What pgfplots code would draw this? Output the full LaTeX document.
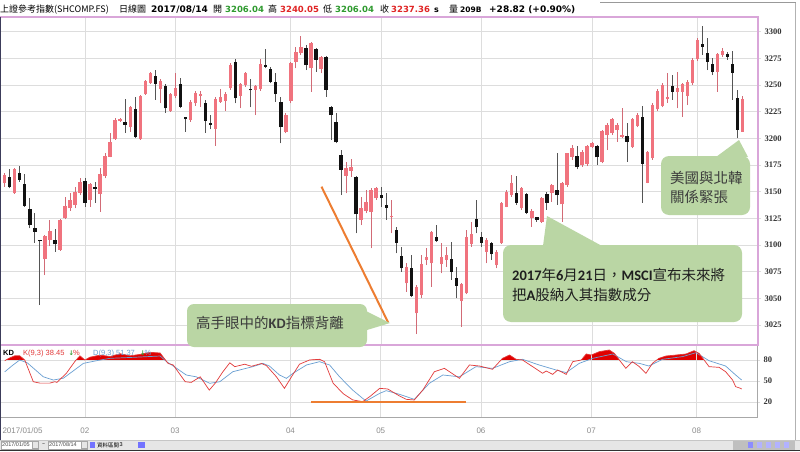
\documentclass[border=0pt]{standalone}
\usepackage{fontspec}
\setmainfont{Liberation Sans}
\newfontfamily\cjk{Noto Sans CJK TC}
\newfontfamily\dv{DejaVu Sans}
\newfontfamily\carl{Carlito}
\newfontfamily\lser{Liberation Serif}
\usepackage{pgfplots}
\usepackage{pgfplotstable}
\pgfplotsset{compat=1.18}

\definecolor{framepink}{HTML}{D9A6D9}
\definecolor{gridgray}{HTML}{DDDDDD}
\definecolor{upbody}{HTML}{F0737E}
\definecolor{upwick}{HTML}{D26B76}
\definecolor{dnbody}{HTML}{111111}
\definecolor{dnwick}{HTML}{555555}
\definecolor{callout}{HTML}{BAD6A4}
\definecolor{annot}{HTML}{ED7D31}
\definecolor{kred}{HTML}{E23A3A}
\definecolor{kfill}{HTML}{E00000}
\definecolor{dblue}{HTML}{6A9FD2}
\definecolor{hdgreen}{HTML}{2E9A2E}
\definecolor{hdred}{HTML}{E02424}
\definecolor{labgray}{HTML}{8C8C8C}
\definecolor{tickdark}{HTML}{333333}
\definecolor{kdframe}{HTML}{A8A8A8}
\definecolor{leftdark}{HTML}{3C3C5A}
\definecolor{tbgray}{HTML}{E6E6E6}
\definecolor{ctext}{HTML}{3C3C3C}

% up (red) candles: index, open, high, low, close
\pgfplotstableread{
i O H L C
0 3157.9 3167.3 3154.8 3165.7
2 3148.5 3171.9 3147.9 3171.3
8 3086.6 3109.4 3071.9 3108.5
9 3104.8 3123.5 3099.1 3113.2
11 3095.4 3124.1 3094.8 3123.5
12 3125.1 3145.4 3124.1 3136.6
13 3134.4 3148.5 3132.3 3142.3
14 3137.6 3154.8 3134.4 3150.1
15 3149.1 3162.6 3146.9 3159.4
17 3142.3 3158.5 3136.0 3156.9
19 3147.9 3171.9 3131.3 3166.6
20 3164.8 3186.0 3162.6 3183.5
21 3182.9 3204.8 3182.3 3196.9
22 3199.1 3218.8 3198.5 3217.3
23 3216.3 3219.4 3215.4 3218.5
25 3210.4 3230.4 3206.3 3229.1
27 3199.1 3240.7 3198.5 3239.8
28 3241.6 3254.8 3240.7 3253.8
29 3252.3 3262.6 3251.0 3261.0
31 3246.3 3255.4 3232.9 3253.8
33 3226.0 3242.9 3225.1 3241.6
34 3239.8 3261.0 3237.6 3246.9
37 3217.3 3236.0 3215.7 3234.4
38 3232.9 3244.4 3230.7 3242.9
39 3240.1 3244.8 3229.8 3241.3
42 3209.1 3239.1 3192.9 3236.6
43 3234.4 3246.0 3233.5 3239.1
44 3235.1 3243.8 3226.0 3241.6
45 3246.9 3270.4 3245.4 3268.8
47 3239.8 3251.6 3228.2 3250.7
48 3250.1 3262.6 3248.5 3261.6
50 3245.4 3250.1 3221.9 3249.1
51 3246.0 3274.1 3244.8 3269.8
56 3206.3 3223.5 3204.8 3221.9
57 3235.4 3271.9 3232.9 3270.4
58 3271.9 3286.0 3265.7 3280.7
59 3280.4 3296.0 3278.2 3286.0
61 3265.7 3290.7 3243.8 3289.1
63 3264.8 3277.3 3261.0 3276.0
68 3165.1 3178.2 3148.5 3171.9
69 3169.8 3180.4 3164.1 3173.5
71 3123.5 3145.4 3118.8 3134.4
72 3131.9 3151.6 3129.8 3140.7
73 3131.3 3153.2 3096.9 3151.6
74 3143.8 3154.8 3142.3 3153.2
77 3126.3 3142.3 3111.0 3127.3
80 3064.1 3082.9 3056.3 3079.8
82 3036.0 3062.6 3016.6 3061.0
83 3053.2 3090.7 3050.1 3082.3
84 3086.0 3096.9 3081.3 3089.1
85 3082.9 3113.5 3061.0 3112.6
87 3081.9 3102.3 3073.5 3089.1
88 3086.0 3098.5 3079.8 3090.7
91 3047.6 3064.1 3023.5 3063.2
92 3054.8 3114.1 3054.1 3107.3
93 3100.7 3121.9 3098.5 3110.1
96 3093.8 3106.3 3082.9 3104.8
98 3081.3 3095.4 3078.2 3093.8
99 3101.6 3140.7 3101.0 3139.8
100 3136.0 3151.6 3135.4 3150.1
101 3146.9 3165.7 3145.4 3157.9
103 3134.4 3154.8 3132.9 3153.8
105 3125.1 3133.5 3117.3 3131.9
107 3121.9 3145.4 3121.0 3143.8
109 3149.1 3157.3 3140.7 3156.3
111 3138.2 3158.8 3121.9 3157.9
112 3156.3 3186.6 3154.8 3186.0
113 3182.9 3193.8 3179.8 3191.3
115 3175.1 3189.1 3173.5 3187.6
116 3176.0 3193.8 3174.1 3192.9
117 3191.6 3196.9 3190.7 3196.0
119 3178.2 3207.9 3176.6 3207.0
120 3203.2 3214.1 3189.1 3212.6
121 3204.8 3218.8 3203.2 3217.9
122 3207.9 3214.1 3196.9 3212.6
123 3201.6 3228.2 3200.1 3203.2
125 3192.3 3218.8 3190.7 3217.9
126 3211.6 3223.5 3210.4 3221.9
128 3158.5 3188.5 3157.9 3187.6
129 3181.3 3232.9 3179.8 3231.3
130 3227.3 3246.0 3226.0 3244.8
131 3230.4 3251.6 3229.1 3250.1
132 3236.6 3261.0 3233.5 3238.5
134 3243.8 3262.6 3228.2 3247.6
135 3243.8 3251.6 3220.4 3250.7
136 3239.8 3254.8 3231.3 3253.2
137 3252.3 3275.1 3250.1 3273.5
138 3274.1 3293.8 3272.9 3292.3
142 3262.6 3280.4 3243.8 3279.1
143 3278.2 3284.4 3276.6 3282.3
147 3206.04 3240.05 3206.04 3237.36
}\uptab

% down (black) candles
\pgfplotstableread{
i O H L C
1 3163.5 3171.3 3153.2 3154.1
3 3167.3 3174.4 3159.4 3161.0
4 3156.9 3166.3 3136.0 3136.6
5 3133.5 3143.8 3115.7 3118.8
6 3115.7 3129.8 3102.3 3112.6
7 3104.8 3104.8 3043.8 3103.5
10 3104.8 3114.8 3093.8 3100.7
16 3159.8 3162.6 3136.0 3139.8
18 3154.1 3159.4 3139.8 3152.9
24 3215.7 3236.6 3205.4 3212.9
26 3227.6 3238.5 3200.1 3201.6
30 3258.5 3264.1 3236.0 3251.0
32 3249.1 3250.7 3224.1 3228.2
35 3250.7 3256.3 3228.2 3229.8
36 3219.8 3220.4 3206.3 3217.9
40 3233.5 3236.0 3205.4 3216.6
41 3214.1 3221.9 3208.5 3212.6
46 3271.9 3274.1 3232.9 3237.6
49 3246.0 3255.4 3229.1 3245.1
52 3268.8 3283.5 3265.7 3267.3
53 3264.8 3267.3 3251.6 3253.2
54 3252.9 3261.0 3234.4 3241.6
55 3234.4 3239.1 3195.4 3210.4
60 3284.4 3287.6 3264.1 3268.8
62 3283.5 3284.4 3262.6 3273.5
64 3276.0 3277.3 3239.1 3245.4
65 3229.8 3230.4 3198.5 3221.9
66 3215.1 3224.1 3195.4 3196.3
67 3184.4 3189.1 3146.9 3170.4
70 3164.1 3164.8 3111.0 3128.8
75 3146.9 3154.8 3136.0 3143.8
76 3137.6 3148.5 3123.5 3135.1
78 3114.1 3117.3 3092.3 3102.3
79 3089.8 3098.5 3075.1 3078.2
81 3078.2 3090.7 3051.6 3052.3
86 3107.3 3118.8 3103.2 3104.1
89 3086.6 3103.2 3067.3 3075.1
90 3068.8 3079.8 3050.1 3061.9
94 3124.1 3142.3 3111.0 3116.6
95 3107.9 3112.6 3098.5 3102.3
97 3101.6 3103.2 3086.0 3091.3
102 3149.1 3164.8 3137.6 3139.8
104 3147.6 3149.1 3129.1 3130.4
106 3126.0 3126.6 3121.9 3123.5
108 3147.6 3150.1 3132.9 3139.8
110 3151.6 3186.6 3137.6 3146.9
114 3183.5 3192.9 3171.0 3172.9
118 3192.9 3193.8 3175.1 3182.3
124 3202.3 3214.1 3178.2 3196.9
127 3219.8 3230.4 3139.8 3176.0
133 3249.1 3259.4 3236.0 3243.8
139 3288.5 3305.4 3278.2 3286.0
140 3280.4 3293.8 3264.1 3271.9
141 3269.4 3275.1 3259.4 3261.9
144 3278.8 3281.3 3273.5 3276.6
145 3269.8 3282.3 3236.0 3261.6
146 3237.6 3245.4 3200.1 3207.9
}\dntab

% K(9,3)
\pgfplotstableread{
i v
0 79
1 83
2 86
3 86
4 80
5.7 49
7 47
9 47
10 49
10.4 48
12.3 61
14 78
15 86
16 80
17 84
19 87
21 85
23 89
25 86
27 88
29 91
31 90
32.6 75
33.6 73
36 49
37.2 48
39 56
40.8 37
42 47
43.5 63
44.9 76
45.9 70.5
47.9 74
49.2 71
51.2 75
52.2 72
54.2 56
55.8 39.5
57.2 56
58.8 74
60.8 80
62.8 81
63.8 77.6
65.5 47
67.5 32
69.4 23
71.4 20.5
72.8 27.6
74.8 39.5
76.4 38.6
78.75 28.6
80.1 23.8
81.7 22.9
83.4 37.1
85.7 63.3
87.7 68.1
90.7 53.8
92.7 72.9
94.7 71.4
97.3 66.7
99.3 82.4
100.7 87.1
102 81
103.3 80
105.3 70.5
107.3 61
108 64.3
109.3 59.5
110.3 65.7
112 59.5
113.3 77.6
115 80
116 88.6
117 87.1
118.6 91.9
120.6 94.3
121.6 89.5
122.6 80
123.9 68.1
125.2 77.6
126.6 70.5
127.9 61
129.2 75.2
130.5 82.4
131.9 85.7
133.9 87.1
135.9 88.6
137.5 93.3
138.5 89.5
140.5 70.5
142.5 69.5
143.8 63.3
145.2 51.4
145.8 41.9
146.8 39.5
147 38.45
}\Ktab

% D(9,3)
\pgfplotstableread{
i v
0 63
1.5 72
3 80
4.5 76
7.7 56
9.7 51.4
11.7 54
15.7 75.2
18.3 79
21 82.4
25.6 83.8
31 85.7
32.3 77.6
34.3 68.1
36.2 58.6
38.2 56
40.9 46.7
42.9 49
45.5 63.3
49.5 70.5
51.5 75.2
52.8 71.4
54.8 58.6
56.2 53.8
57.5 61
60.2 72.9
62.8 77.6
64.8 72.9
66.8 56
69.4 37.1
71.4 25.2
72.1 21.4
74.8 32.4
76.1 36.2
78.75 31
81.7 23.8
84.7 46.7
87.4 58.6
90.7 56
94 70.5
97.3 68
100.7 77.6
103.3 81
106.6 72.9
110 65.7
112 62
114.6 75.2
117.3 82.4
121.3 88.6
124 77.6
126.6 75.2
128.5 71.4
131.2 81
135.2 84.8
137.9 90.5
140.5 79
143.8 71.4
145.8 58.6
147 51.37
}\Dtab

\pgfplotsset{
  ticklab/.style={font=\lser\bfseries\fontsize{8.5}{9}\selectfont, text=tickdark,
    /pgf/number format/1000 sep={}, /pgf/number format/assume math mode=true},
  candle/.style 2 args={forget plot, draw=none, mark=none,
    error bars/y dir=plus, error bars/y explicit, error bars/error mark=none,
    error bars/error bar style={draw=#1, line width=#2, solid}},
}

\begin{document}
\begin{tikzpicture}[x=1pt,y=1pt]
\path[use as bounding box, fill=white] (0,0) rectangle (800,451);

% overbought fill of K above 80
\begin{axis}[at={(0pt,91pt)}, anchor=south west, scale only axis,
  width=757pt, height=15pt,
  xmin=-0.94, xmax=150.06, ymin=80, ymax=101.43, hide axis, clip=true]
\addplot[draw=none, fill=kfill] table[x=i, y=v] {\Ktab} \closedcycle;
\end{axis}

% KD panel
\begin{axis}[at={(0pt,34pt)}, anchor=south west, scale only axis,
  width=757pt, height=72pt,
  xmin=-0.94, xmax=150.06, ymin=-1.43, ymax=101.43,
  axis line style={draw=kdframe, line width=0.8pt},
  xtick={16,34,57,75,95,117,138},
  xticklabels={02,03,04,05,06,07,08},
  extra x ticks={-0.94}, extra x tick labels={2017/01/05},
  extra x tick style={grid=none, xticklabel style={anchor=north west, xshift=-1pt}},
  xticklabel style={font=\fontsize{8}{9}\selectfont, text=labgray, yshift=-4pt},
  xtick style={draw=none},
  ytick={20,50,80}, ytick pos=right, yticklabel pos=right,
  ytick style={draw=gridgray, line width=0.8pt}, tick align=outside,
  major tick length=3pt,
  yticklabel style={ticklab},
  grid=major, grid style={draw=gridgray, line width=0.8pt},
]
\addplot[draw=dblue, line width=0.7pt] table[x=i, y=v] {\Dtab};
\addplot[draw=kred, line width=0.7pt] table[x=i, y=v] {\Ktab};
\draw[annot, line width=2pt] (axis cs:61.1,19.5) -- (axis cs:92,19.5);
\end{axis}

% price panel
\begin{axis}[at={(0pt,106pt)}, anchor=south west, scale only axis,
  width=758pt, height=328pt,
  xmin=-0.94, xmax=150.06, ymin=3006.3, ymax=3313.8,
  axis line style={draw=framepink, line width=1.5pt},
  xtick={16,34,57,75,95,117,138}, xticklabels={}, xtick style={draw=none},
  ytick={3025,3050,...,3300}, ytick pos=right, yticklabel pos=right,
  ytick style={draw=gridgray, line width=0.8pt}, tick align=outside,
  major tick length=3pt,
  yticklabel style={ticklab},
  grid=major, grid style={draw=gridgray, line width=0.8pt},
]
% wicks
\addplot[candle={upwick}{0.8pt}]
  table[x=i, y=L, y error expr=\thisrow{H}-\thisrow{L}] {\uptab};
\addplot[candle={dnwick}{0.8pt}]
  table[x=i, y=L, y error expr=\thisrow{H}-\thisrow{L}] {\dntab};
% bodies
\addplot[candle={upbody}{3.4pt}]
  table[x=i, y=O, y error expr=\thisrow{C}-\thisrow{O}] {\uptab};
\addplot[candle={dnbody}{3.4pt}]
  table[x=i, y=C, y error expr=\thisrow{O}-\thisrow{C}] {\dntab};
\draw[annot, line width=2pt] (axis cs:63.1,3154.75) -- (axis cs:76.4,3027.25);
\end{axis}

% left border
\draw[leftdark, line width=1.2pt] (0.6,11) -- (0.6,434);
% window border right/top
\draw[gray!60, line width=1pt] (795.5,11) -- (795.5,448.5);
\draw[gray!80, line width=1pt] (600,448.5) -- (795.5,448.5);

% KD header
\node[anchor=base west, inner sep=0, font=\bfseries\fontsize{7.5}{8}\selectfont] at (3,96) {KD};
\node[anchor=base west, inner sep=0, font=\fontsize{7.5}{8}\selectfont, text=kred] at (23,96) {K(9,3) 38.45};
\node[anchor=base west, inner sep=0, font=\dv\bfseries\fontsize{6.5}{7}\selectfont, text=hdgreen] at (68.5,96) {↓};
\node[anchor=base west, inner sep=0, font=\fontsize{7.5}{8}\selectfont, text=kred] at (73,96) {\%};
\node[anchor=base west, inner sep=0, font=\fontsize{7.5}{8}\selectfont, text=dblue] at (93,96) {D(9,3) 51.37};
\node[anchor=base west, inner sep=0, font=\dv\bfseries\fontsize{6.5}{7}\selectfont, text=hdgreen] at (140,96) {↓};
\node[anchor=base west, inner sep=0, font=\fontsize{7.5}{8}\selectfont, text=dblue] at (144.5,96) {\%};

% header line
\begin{scope}[every node/.style={anchor=base west, inner sep=0}]
\node[font=\cjk\fontsize{9}{10}\selectfont] at (0,438) {上證參考指數(SHCOMP.FS)};
\node[font=\cjk\fontsize{9}{10}\selectfont] at (119,438) {日線圖};
\node[font=\dv\bfseries\fontsize{9}{10}\selectfont] at (151,438) {2017/08/14};
\node[font=\cjk\fontsize{9}{10}\selectfont] at (213,438) {開};
\node[font=\dv\bfseries\fontsize{8.5}{10}\selectfont, text=hdgreen] at (225,438) {3206.04};
\node[font=\cjk\fontsize{9}{10}\selectfont] at (268,438) {高};
\node[font=\dv\bfseries\fontsize{8.5}{10}\selectfont, text=hdred] at (280,438) {3240.05};
\node[font=\cjk\fontsize{9}{10}\selectfont] at (323,438) {低};
\node[font=\dv\bfseries\fontsize{8.5}{10}\selectfont, text=hdgreen] at (335,438) {3206.04};
\node[font=\cjk\fontsize{9}{10}\selectfont] at (380,438) {收};
\node[font=\dv\bfseries\fontsize{8.5}{10}\selectfont, text=hdred] at (391,438) {3237.36};
\node[font=\dv\bfseries\fontsize{8}{10}\selectfont] at (434,438) {s};
\node[font=\cjk\fontsize{9}{10}\selectfont] at (449,438) {量};
\node[font=\dv\bfseries\fontsize{7.5}{10}\selectfont] at (460,438) {209B};
\node[font=\dv\bfseries\fontsize{9}{10}\selectfont] at (489,438) {+28.82 (+0.90\%)};
\end{scope}

% callouts
\fill[callout, rounded corners=7pt] (187,104) rectangle (367,147);
\fill[callout] (352,147) -- (390,128) -- (367,121) -- cycle;
\node[anchor=base west, inner sep=0, text=ctext, font=\cjk\fontsize{14.5}{17}\selectfont] at (196,123)
  {高手眼中的{\carl\bfseries KD}指標背離};

\fill[callout, rounded corners=8pt] (503,129) rectangle (742,206);
\fill[callout] (543,205) -- (547,235) -- (602,205) -- cycle;
\node[anchor=base west, inner sep=0, text=black!88, font=\cjk\fontsize{14.5}{17}\selectfont] at (512,171)
  {{\carl\bfseries 2017}年{\carl\bfseries 6}月{\carl\bfseries 21}日，{\carl\bfseries MSCI}宣布未來將};
\node[anchor=base west, inner sep=0, text=black!88, font=\cjk\fontsize{14.5}{17}\selectfont] at (512,151)
  {把{\carl\bfseries A}股納入其指數成分};

\fill[callout, rounded corners=8pt] (661,236) rectangle (750,295);
\fill[callout] (716,294) -- (739,311) -- (748,294) -- cycle;
\node[anchor=base west, inner sep=0, text=ctext, font=\cjk\fontsize{14.5}{17}\selectfont] at (670,268) {美國與北韓};
\node[anchor=base west, inner sep=0, text=ctext, font=\cjk\fontsize{14.5}{17}\selectfont] at (670,249) {關係緊張};

% bottom toolbar
\fill[tbgray] (0,0) rectangle (800,11);
\draw[gray!45, line width=0.6pt] (0,11) -- (800,11);
\draw[black!80, line width=0.8pt] (0,0.4) -- (800,0.4);
\draw[gray!70, fill=white] (1,2) rectangle (38,10);
\node[anchor=west, inner sep=0, font=\fontsize{5.5}{6}\selectfont, text=black!70] at (2,6) {2017/01/05};
\draw[gray!70, fill=tbgray] (32,2.5) rectangle (38,9.5);
\node[inner sep=0, font=\fontsize{5}{6}\selectfont] at (43.5,6) {\textasciitilde};
\draw[gray!70, fill=white] (48,2) rectangle (87,10);
\node[anchor=west, inner sep=0, font=\fontsize{5.5}{6}\selectfont, text=black!70] at (49,6) {2017/08/14};
\draw[gray!70, fill=tbgray] (81,2.5) rectangle (87,9.5);
\fill[blue!55] (89.5,3) rectangle (95,9);
\node[anchor=west, inner sep=0, font=\cjk\fontsize{5.5}{6}\selectfont] at (97,6) {資料區間};
\node[anchor=west, inner sep=0, font=\fontsize{5.5}{6}\selectfont] at (119.5,6) {3};
\fill[blue!55] (137.5,3) rectangle (145,9);
\fill[gray!50] (733,1.5) rectangle (795,10);
\fill[blue!45] (748,3) rectangle (753,9);
\fill[blue!30] (757,3) rectangle (762,9);
\fill[blue!30] (766,3) rectangle (771,9);
\fill[blue!30] (775,3) rectangle (780,9);
\fill[blue!30] (784,3) rectangle (789,9);
\end{tikzpicture}
\end{document}
